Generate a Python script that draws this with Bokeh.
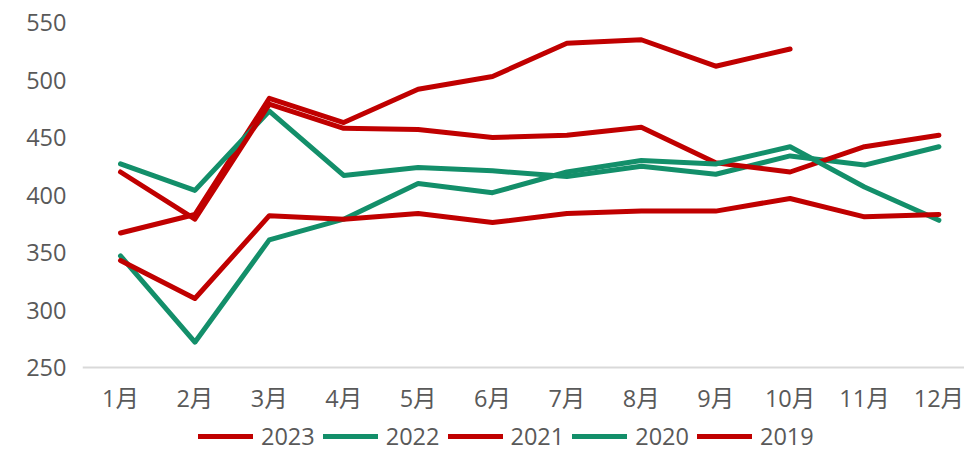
from bokeh.plotting import figure
from bokeh.models import FixedTicker, Range1d, Legend, LegendItem, LinearAxis
from bokeh.embed import file_html
from bokeh.resources import INLINE

months = ["1月", "2月", "3月", "4月", "5月", "6月", "7月", "8月", "9月", "10月", "11月", "12月"]
x_pos = [1, 2, 3, 4, 5, 6, 7, 8, 9, 10, 11, 12]

s2023 = [367, 383, 484, 463, 492, 503, 532, 535, 512, 527]
s2022 = [427, 404, 473, 417, 424, 421, 416, 425, 418, 434, 426, 442]
s2021 = [420, 379, 479, 458, 457, 450, 452, 459, 428, 420, 442, 452]
s2020 = [347, 272, 361, 379, 410, 402, 420, 430, 427, 442, 407, 378]
s2019 = [343, 310, 382, 379, 384, 376, 384, 386, 386, 397, 381, 383]

series_names = ["2023", "2022", "2021", "2020", "2019"]
series_vals = [s2023, s2022, s2021, s2020, s2019]

y_ticks = [250, 300, 350, 400, 450, 500, 550]

RED = "#C00000"
GREEN = "#138F6A"
colors = [RED, GREEN, RED, GREEN, RED]
TEXT = "#595959"
FONT = "'Open Sans', 'Noto Sans CJK SC', sans-serif"
FS = "23.5px"

W, H = 964, 452
LEFT, TOP = 82, 22
AXIS_Y = 367
DX = 74.4
PX_PER_UNIT = (AXIS_Y - TOP) / 300.0

x0 = 1 - (120 - LEFT) / DX
x1 = 1 + (W - 120) / DX
y0 = 250 - (H - AXIS_Y) / PX_PER_UNIT

p = figure(width=W, height=H, output_backend="svg", toolbar_location=None,
           x_range=Range1d(x0, x1), y_range=Range1d(y0, 550),
           min_border_left=LEFT, min_border_right=0, min_border_top=TOP, min_border_bottom=0,
           x_axis_location=None)
p.outline_line_color = None
p.xgrid.grid_line_color = None
p.ygrid.grid_line_color = None

xaxis = LinearAxis(fixed_location=250)
p.add_layout(xaxis, "below")

renderers = []
for name, vals, c in zip(series_names, series_vals, colors):
    r = p.line(x_pos[:len(vals)], vals, line_color=c, line_width=5,
               line_cap="round", line_join="round")
    renderers.append(r)

xaxis.ticker = FixedTicker(ticks=x_pos)
xaxis.major_label_overrides = {x: m for x, m in zip(x_pos, months)}
xaxis.axis_line_color = "#D9D9D9"
xaxis.axis_line_width = 2
xaxis.major_tick_line_color = None
xaxis.minor_tick_line_color = None
xaxis.major_tick_out = 0
xaxis.major_tick_in = 0
xaxis.major_label_standoff = 14
xaxis.major_label_text_font = FONT
xaxis.major_label_text_font_size = FS
xaxis.major_label_text_color = TEXT

p.yaxis.ticker = FixedTicker(ticks=y_ticks)
p.yaxis.axis_line_color = None
p.yaxis.major_tick_line_color = None
p.yaxis.minor_tick_line_color = None
p.yaxis.major_tick_out = 0
p.yaxis.major_label_standoff = 16
p.yaxis.major_label_text_font = FONT
p.yaxis.major_label_text_font_size = FS
p.yaxis.major_label_text_color = TEXT

items = [LegendItem(label=n, renderers=[r]) for n, r in zip(series_names, renderers)]
legend = Legend(items=items, orientation="horizontal", location=(116, 0),
                border_line_color=None, background_fill_alpha=0,
                padding=0, margin=0, spacing=8, glyph_width=55, glyph_height=24,
                label_standoff=8, label_height=24,
                label_text_font=FONT, label_text_font_size=FS, label_text_color=TEXT)
p.add_layout(legend)

open("out.html", "w").write(file_html(p, INLINE))
